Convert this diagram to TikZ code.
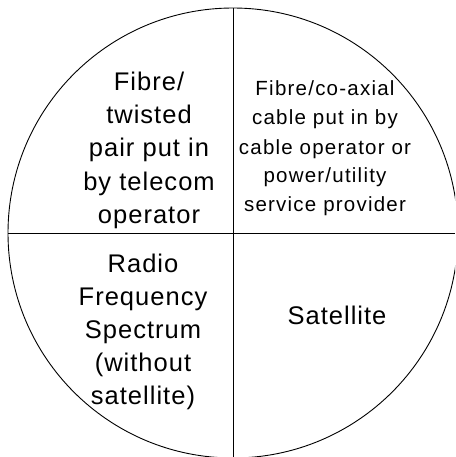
\documentclass[tikz,border=0pt]{standalone}
\usepackage{fontspec}
\setmainfont{Liberation Sans}
\newfontfamily\bigf[LetterSpace=4]{Liberation Sans}
\newfontfamily\smallf[LetterSpace=6]{Liberation Sans}
\begin{document}
\begin{tikzpicture}[x=1pt,y=-1pt,
  line/.style={line width=0.9pt,black},
  bigtxt/.style={anchor=base,inner sep=0pt,font=\bigf\fontsize{25.5}{30}\selectfont},
  smalltxt/.style={anchor=base,inner sep=0pt,font=\smallf\fontsize{20.5}{24}\selectfont}]
\useasboundingbox (0,0) rectangle (455,457);
\clip (0,0) rectangle (455,457);
\coordinate (c) at (233,233);
\coordinate (top) at (233,8);
\coordinate (bot) at (233,457);
\coordinate (lft) at (8,233);
\coordinate (rgt) at (455,233);
\draw[line] (c) circle[radius=225];
\draw[line] (top) -- (bot);
\draw[line] (lft) -- (rgt);
% top-left
\node[bigtxt] (tl1) at (149,91) {Fibre/};
\node[bigtxt] (tl2) at (149,124) {twisted};
\node[bigtxt] (tl3) at (149,157) {pair put in};
\node[bigtxt] (tl4) at (149,190) {by telecom};
\node[bigtxt] (tl5) at (149,223) {operator};
% top-right
\node[smalltxt] (tr1) at (325,96) {Fibre/co-axial};
\node[smalltxt] (tr2) at (325,125) {cable put in by};
\node[smalltxt] (tr3) at (325,154) {cable operator or};
\node[smalltxt] (tr4) at (325,182) {power/utility};
\node[smalltxt] (tr5) at (325,211) {service provider};
% bottom-left
\node[bigtxt] (bl1) at (143,272) {Radio};
\node[bigtxt] (bl2) at (143,305) {Frequency};
\node[bigtxt] (bl3) at (143,338) {Spectrum};
\node[bigtxt] (bl4) at (143,371) {(without};
\node[bigtxt] (bl5) at (143,404) {satellite)};
% bottom-right
\node[bigtxt] (br1) at (337,324) {Satellite};
\end{tikzpicture}
\end{document}
